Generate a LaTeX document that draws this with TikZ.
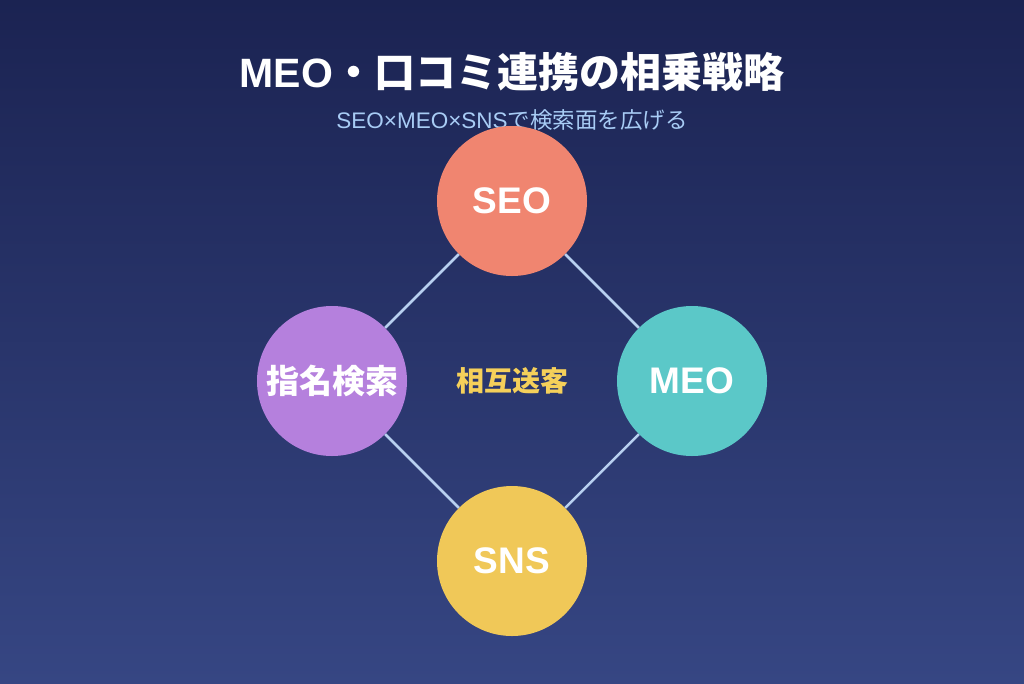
\documentclass[tikz,border=0pt]{standalone}
\usepackage{fontspec}
\setmainfont{Noto Sans CJK JP}
\newfontfamily\latin{Liberation Sans}
\begin{document}
\begin{tikzpicture}[x=1pt,y=-1pt,
  circ/.style={circle,minimum size=150pt,inner sep=0pt,text=white,font=\latin\bfseries\fontsize{37}{40}\selectfont},
  link/.style={draw=linec,line width=2.5pt}]
\definecolor{topc}{HTML}{1B2352}
\definecolor{botc}{HTML}{364683}
\definecolor{linec}{HTML}{B8D0F0}
\definecolor{seoc}{HTML}{F08570}
\definecolor{meoc}{HTML}{5BC8C8}
\definecolor{snsc}{HTML}{F0C858}
\definecolor{namec}{HTML}{B580DD}
\definecolor{subc}{HTML}{A8CCF5}
\definecolor{midc}{HTML}{F5D05A}
\shade[top color=topc,bottom color=botc] (0,0) rectangle (1024,683);
\useasboundingbox (0,0) rectangle (1024,683);
\node[text=white,font=\bfseries\fontsize{41}{46}\selectfont] (title) at (512,72) {{\latin MEO}・口コミ連携の相乗戦略};
\node[text=subc,font=\fontsize{22.5}{26}\selectfont] (sub) at (512,120) {{\latin SEO×MEO×SNS}で検索面を広げる};
\node[circ,fill=seoc] (seo) at (512,201) {SEO};
\node[circ,fill=namec,font=\bfseries\fontsize{33}{38}\selectfont] (name) at (332,381) {指名検索};
\node[circ,fill=meoc] (meo) at (692,381) {MEO};
\node[circ,fill=snsc] (sns) at (512,561) {SNS};
\node[text=midc,font=\bfseries\fontsize{28}{32}\selectfont] (mid) at (512,381) {相互送客};
\draw[link] (seo) -- (meo);
\draw[link] (meo) -- (sns);
\draw[link] (sns) -- (name);
\draw[link] (name) -- (seo);
\end{tikzpicture}
\end{document}
